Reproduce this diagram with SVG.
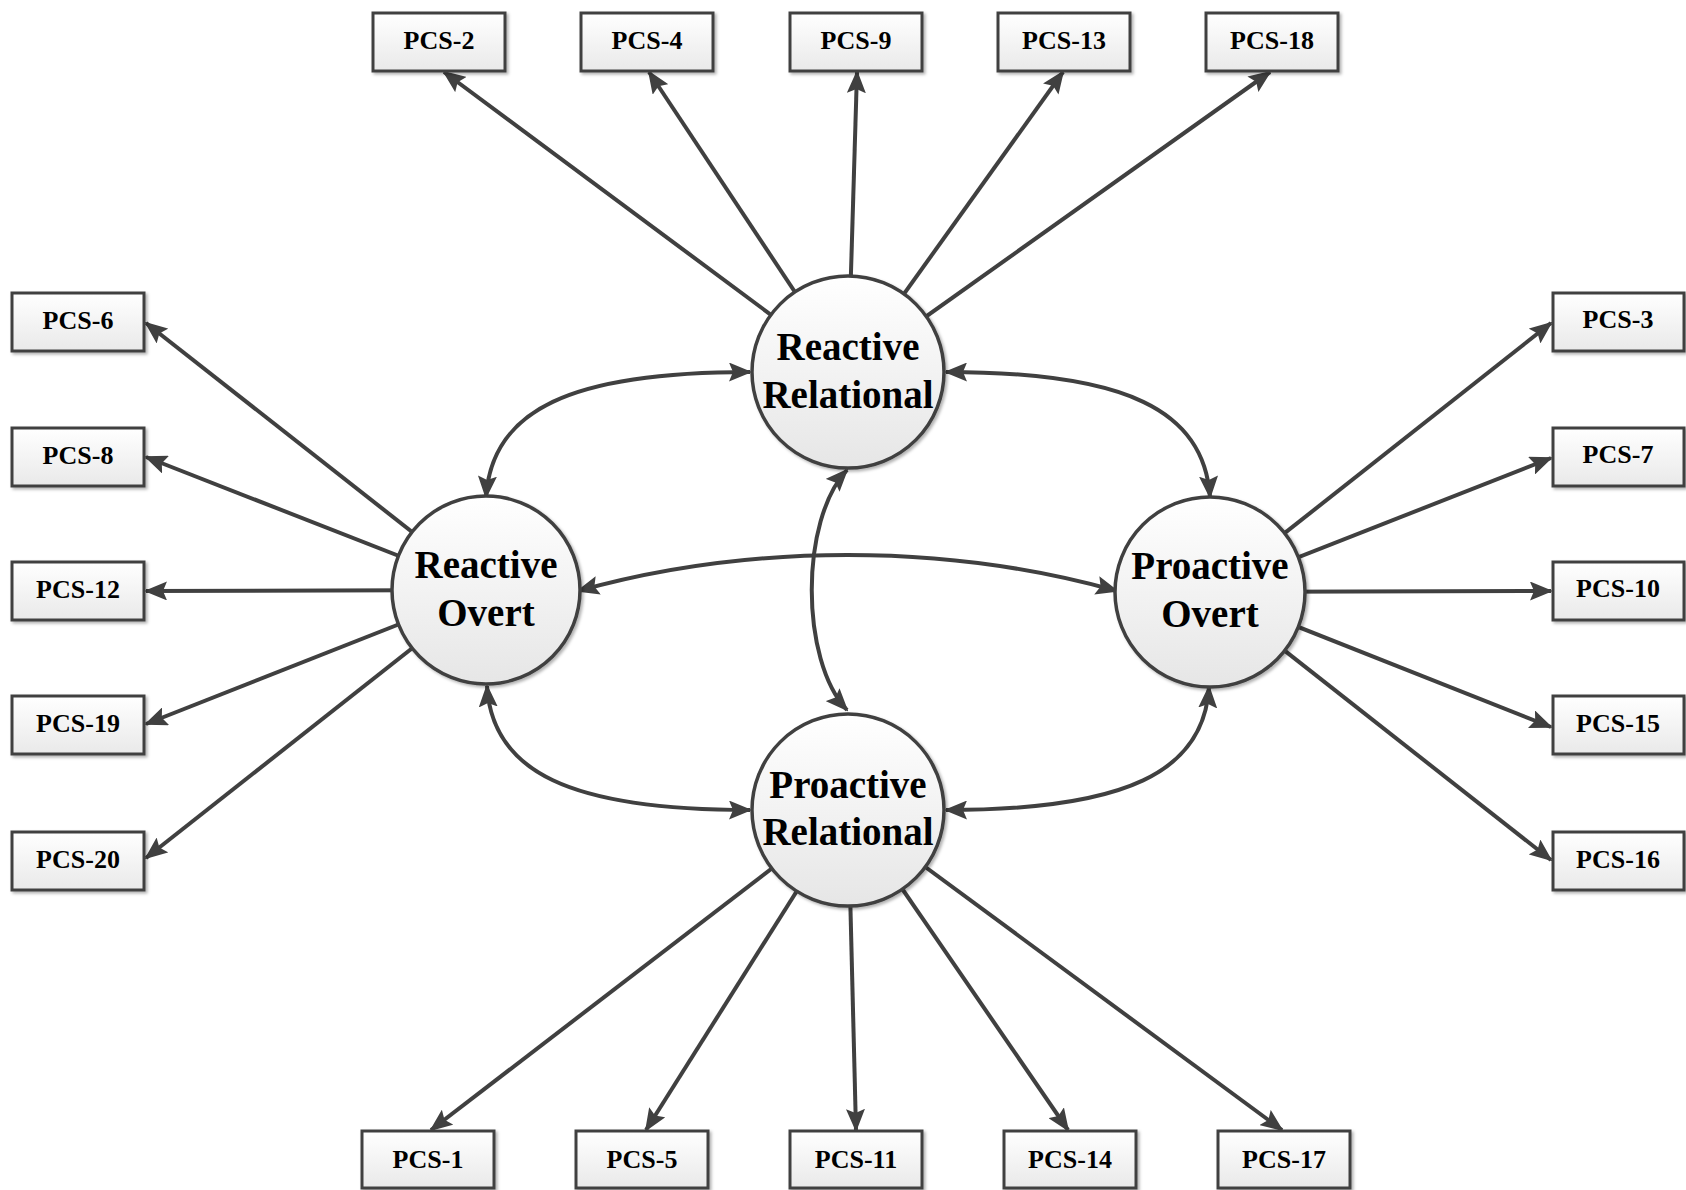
<svg xmlns="http://www.w3.org/2000/svg" width="1686" height="1190" viewBox="0 0 1686 1190">
  <style>
    .box rect { fill: url(#boxFill); stroke: #404040; stroke-width: 3; filter: url(#shadow); }
    .box text { font-family: "Liberation Serif", "Times New Roman", serif; font-weight: bold; font-size: 26px; fill: #000; text-anchor: middle; }
    .factor circle { fill: url(#circleFill); stroke: #404040; stroke-width: 3.5; filter: url(#shadow); }
    .factor text { font-family: "Liberation Serif", "Times New Roman", serif; font-weight: bold; font-size: 39px; fill: #000; text-anchor: middle; }
    .link { fill: none; stroke: #404040; stroke-width: 4; marker-end: url(#head); }
    .corr { fill: none; stroke: #404040; stroke-width: 4; marker-start: url(#head); marker-end: url(#head); }
  </style>
  <defs>
    <linearGradient id="boxFill" x1="0" y1="0" x2="0" y2="1">
      <stop offset="0" stop-color="#ffffff"/>
      <stop offset="1" stop-color="#e9e9e9"/>
    </linearGradient>
    <linearGradient id="circleFill" x1="0" y1="0" x2="0" y2="1">
      <stop offset="0" stop-color="#ffffff"/>
      <stop offset="1" stop-color="#e6e6e6"/>
    </linearGradient>
    <filter id="shadow" x="-10%" y="-10%" width="130%" height="130%">
      <feDropShadow dx="2" dy="2" stdDeviation="1.5" flood-color="#000" flood-opacity="0.3"/>
    </filter>
    <marker id="head" markerUnits="userSpaceOnUse" viewBox="0 0 23 19" markerWidth="23" markerHeight="19" refX="21" refY="9.5" orient="auto-start-reverse">
      <path d="M0,0 L23,9.5 L0,19 L4,9.5 z" fill="#404040"/>
    </marker>
  </defs>

  <rect width="1686" height="1190" fill="#ffffff"/>

  <g id="connectors">
    <!-- loadings: Reactive Relational -->
    <line class="link" x1="848" y1="372" x2="444" y2="72"/>
    <line class="link" x1="848" y1="372" x2="649" y2="72"/>
    <line class="link" x1="848" y1="372" x2="857" y2="72"/>
    <line class="link" x1="848" y1="372" x2="1063" y2="72"/>
    <line class="link" x1="848" y1="372" x2="1270" y2="72"/>
    <!-- loadings: Reactive Overt -->
    <line class="link" x1="486" y1="590" x2="146" y2="323"/>
    <line class="link" x1="486" y1="590" x2="146" y2="457"/>
    <line class="link" x1="486" y1="590" x2="146" y2="591"/>
    <line class="link" x1="486" y1="590" x2="146" y2="724"/>
    <line class="link" x1="486" y1="590" x2="146" y2="858"/>
    <!-- loadings: Proactive Overt -->
    <line class="link" x1="1210" y1="592" x2="1551" y2="323"/>
    <line class="link" x1="1210" y1="592" x2="1551" y2="458"/>
    <line class="link" x1="1210" y1="592" x2="1551" y2="591"/>
    <line class="link" x1="1210" y1="592" x2="1551" y2="727"/>
    <line class="link" x1="1210" y1="592" x2="1551" y2="860"/>
    <!-- loadings: Proactive Relational -->
    <line class="link" x1="848" y1="810" x2="431" y2="1130"/>
    <line class="link" x1="848" y1="810" x2="646" y2="1130"/>
    <line class="link" x1="848" y1="810" x2="856" y2="1130"/>
    <line class="link" x1="848" y1="810" x2="1068" y2="1130"/>
    <line class="link" x1="848" y1="810" x2="1282" y2="1130"/>
    <!-- factor correlations -->
    <path class="corr" d="M486,497 C492,410 570,372 750,372"/>
    <path class="corr" d="M1210,497 C1204,410 1126,372 946,372"/>
    <path class="corr" d="M578,591 C749,543 946,543 1117,591"/>
    <path class="corr" d="M847,470 C800,520 800,660 847,710"/>
    <path class="corr" d="M487,686 C492,772 570,810 750,810"/>
    <path class="corr" d="M1209,687 C1204,772 1126,810 946,810"/>
  </g>

  <!-- latent factors -->
  <g id="reactive-relational" class="factor">
    <circle cx="848" cy="372" r="96"/>
    <text x="848" y="360">Reactive</text>
    <text x="848" y="408">Relational</text>
  </g>
  <g id="reactive-overt" class="factor">
    <circle cx="486" cy="590" r="94"/>
    <text x="486" y="578">Reactive</text>
    <text x="486" y="626">Overt</text>
  </g>
  <g id="proactive-overt" class="factor">
    <circle cx="1210" cy="592" r="95"/>
    <text x="1210" y="579">Proactive</text>
    <text x="1210" y="627">Overt</text>
  </g>
  <g id="proactive-relational" class="factor">
    <circle cx="848" cy="810" r="96"/>
    <text x="848" y="798">Proactive</text>
    <text x="848" y="845">Relational</text>
  </g>

  <!-- indicator items, top row -->
  <g id="pcs-2" class="box"><rect x="373" y="13" width="132" height="58"/><text x="439" y="49">PCS-2</text></g>
  <g id="pcs-4" class="box"><rect x="581" y="13" width="132" height="58"/><text x="647" y="49">PCS-4</text></g>
  <g id="pcs-9" class="box"><rect x="790" y="13" width="132" height="58"/><text x="856" y="49">PCS-9</text></g>
  <g id="pcs-13" class="box"><rect x="998" y="13" width="132" height="58"/><text x="1064" y="49">PCS-13</text></g>
  <g id="pcs-18" class="box"><rect x="1206" y="13" width="132" height="58"/><text x="1272" y="49">PCS-18</text></g>

  <!-- left column -->
  <g id="pcs-6" class="box"><rect x="12" y="293" width="132" height="58"/><text x="78" y="329">PCS-6</text></g>
  <g id="pcs-8" class="box"><rect x="12" y="428" width="132" height="58"/><text x="78" y="464">PCS-8</text></g>
  <g id="pcs-12" class="box"><rect x="12" y="562" width="132" height="58"/><text x="78" y="598">PCS-12</text></g>
  <g id="pcs-19" class="box"><rect x="12" y="696" width="132" height="58"/><text x="78" y="732">PCS-19</text></g>
  <g id="pcs-20" class="box"><rect x="12" y="832" width="132" height="58"/><text x="78" y="868">PCS-20</text></g>

  <!-- right column -->
  <g id="pcs-3" class="box"><rect x="1553" y="293" width="131" height="58"/><text x="1618" y="328">PCS-3</text></g>
  <g id="pcs-7" class="box"><rect x="1553" y="428" width="131" height="58"/><text x="1618" y="463">PCS-7</text></g>
  <g id="pcs-10" class="box"><rect x="1553" y="562" width="131" height="58"/><text x="1618" y="597">PCS-10</text></g>
  <g id="pcs-15" class="box"><rect x="1553" y="696" width="131" height="58"/><text x="1618" y="732">PCS-15</text></g>
  <g id="pcs-16" class="box"><rect x="1553" y="832" width="131" height="58"/><text x="1618" y="868">PCS-16</text></g>

  <!-- bottom row -->
  <g id="pcs-1" class="box"><rect x="362" y="1131" width="132" height="57"/><text x="428" y="1168">PCS-1</text></g>
  <g id="pcs-5" class="box"><rect x="576" y="1131" width="132" height="57"/><text x="642" y="1168">PCS-5</text></g>
  <g id="pcs-11" class="box"><rect x="790" y="1131" width="132" height="57"/><text x="856" y="1168">PCS-11</text></g>
  <g id="pcs-14" class="box"><rect x="1004" y="1131" width="132" height="57"/><text x="1070" y="1168">PCS-14</text></g>
  <g id="pcs-17" class="box"><rect x="1218" y="1131" width="132" height="57"/><text x="1284" y="1168">PCS-17</text></g>
</svg>
